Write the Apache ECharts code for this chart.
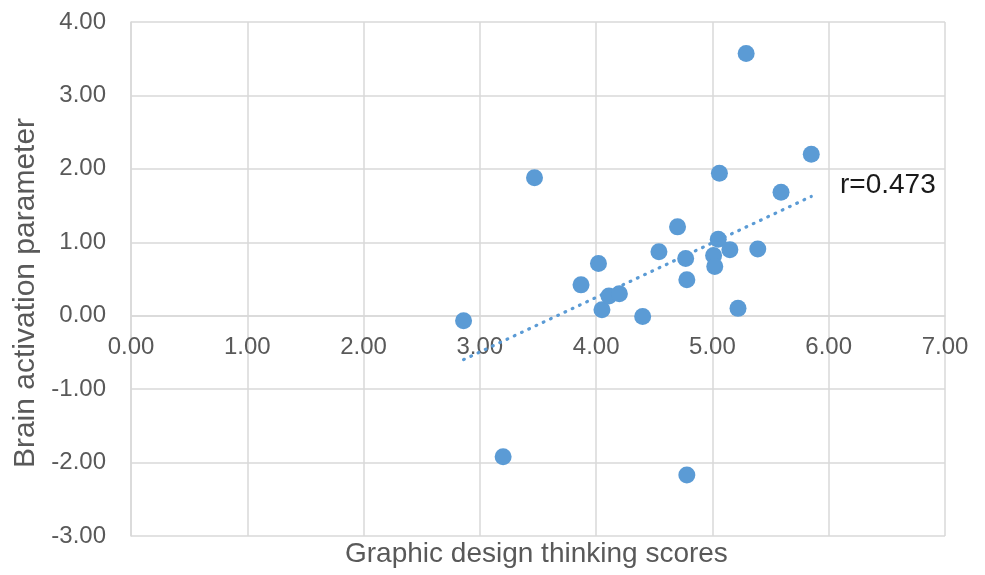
<!DOCTYPE html>
<html>
<head>
<meta charset="utf-8">
<script src="https://cdn.jsdelivr.net/npm/echarts@6/dist/echarts.min.js"></script>
<style>
  html, body { margin: 0; padding: 0; background: #fff; }
  #chart { width: 985px; height: 575px; }
</style>
</head>
<body>
<div id="chart"></div>
<script>
// design thinking score (x) vs brain activation parameter (y)
const designScores = [2.86, 3.20, 3.47, 3.87, 4.02, 4.05, 4.11, 4.20, 4.40, 4.54, 4.70, 4.77,
  4.78, 4.78, 5.01, 5.02, 5.05, 5.06, 5.15, 5.22, 5.29, 5.39, 5.59, 5.85]
const brainActivation = [-0.07, -1.92, 1.88, 0.42, 0.71, 0.08, 0.27, 0.30, -0.01, 0.87, 1.21, 0.78,
  0.49, -2.17, 0.82, 0.67, 1.04, 1.94, 0.90, 0.10, 3.57, 0.91, 1.68, 2.20]
const corrLabel = 'r=0.473'

const points = designScores.map((x, i) => [x, brainActivation[i]])

// least-squares trendline over the observed x range
function linearFit(xs, ys) {
  const n = xs.length
  const mx = xs.reduce((a, b) => a + b, 0) / n
  const my = ys.reduce((a, b) => a + b, 0) / n
  let sxy = 0, sxx = 0
  for (let i = 0; i < n; i++) {
    sxy += (xs[i] - mx) * (ys[i] - my)
    sxx += (xs[i] - mx) ** 2
  }
  const slope = sxy / sxx
  return { slope, intercept: my - slope * mx }
}
const fit = linearFit(designScores, brainActivation)
const xMin = Math.min(...designScores)
const xMax = Math.max(...designScores)
const trend = [xMin, xMax].map(x => [x, fit.intercept + fit.slope * x])

const FONT = '"Liberation Sans", Arial, sans-serif'
const gridColor = '#d9d9d9'
const textColor = '#595959'
const dotColor = '#5b9bd5'

// plot box; the x axis crosses at y = 0, so shift it up from the bottom edge
const grid = { left: 131, right: 40, top: 22, bottom: 39 }
const Y_MIN = -3, Y_MAX = 4
const plotH = 575 - grid.top - grid.bottom
const xAxisOffset = -plotH * (0 - Y_MIN) / (Y_MAX - Y_MIN)

const chart = echarts.init(document.getElementById('chart'))
chart.setOption({
  animation: false,
  grid: { ...grid, outerBoundsMode: 'none', containLabel: false },
  xAxis: {
    type: 'value', min: 0, max: 7, interval: 1, offset: xAxisOffset,
    axisLine: { show: true, onZero: false, lineStyle: { color: gridColor, width: 1.5 } },
    axisTick: { show: false },
    splitLine: { lineStyle: { color: gridColor, width: 1.5 } },
    axisLabel: { color: textColor, fontSize: 24, fontFamily: FONT, margin: 20,
      formatter: v => v.toFixed(2) }
  },
  yAxis: {
    type: 'value', min: Y_MIN, max: Y_MAX, interval: 1,
    name: 'Brain activation parameter', nameLocation: 'middle', nameGap: 84,
    nameTextStyle: { color: textColor, fontSize: 30, fontFamily: FONT, padding: [0, 28, 0, 0] },
    axisLine: { show: true, onZero: false, lineStyle: { color: gridColor, width: 1.5 } },
    axisTick: { show: false },
    splitLine: { lineStyle: { color: gridColor, width: 1.5 } },
    axisLabel: { color: textColor, fontSize: 24, fontFamily: FONT, margin: 25,
      formatter: v => v.toFixed(2) }
  },
  graphic: [
    { type: 'text', left: 345, top: 540,
      style: { text: 'Graphic design thinking scores', fill: textColor, font: '28px ' + FONT } },
    { type: 'text', left: 840, top: 171,
      style: { text: corrLabel, fill: '#1a1a1a', font: '28px ' + FONT } }
  ],
  series: [
    {
      type: 'line', data: trend, symbol: 'none', silent: true, z: 1,
      lineStyle: { color: dotColor, width: 3.2, type: [0.8, 7.2], cap: 'round' }
    },
    {
      type: 'scatter', data: points, symbolSize: 17, z: 2,
      itemStyle: { color: dotColor, opacity: 1 }
    }
  ]
})
</script>
</body>
</html>
